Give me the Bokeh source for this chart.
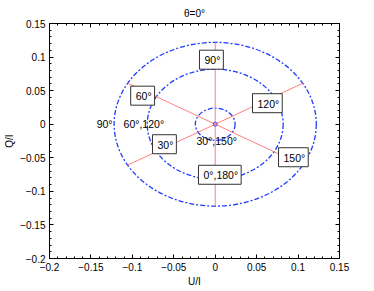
import numpy as np
from bokeh.plotting import figure
from bokeh.models import LinearAxis, FixedTicker, CustomJSTickFormatter, Range1d
from bokeh.core.properties import value
from bokeh.embed import file_html
from bokeh.resources import INLINE

# ---- data ----
ring_radii = [0.024, 0.082, 0.122]
line_angles_deg = [30, 90, 150]
line_radius = 0.122
boxed_labels = ["90°", "60°", "120°", "30°", "150°", "0°,180°"]
boxed_u = [-0.019, -0.102, 0.045, -0.0757, 0.0764, -0.0202]
boxed_q = [0.0961, 0.0425, 0.0313, -0.0298, -0.0492, -0.0753]
plain_labels = ["90°", "60°,120°", "30°,150°"]
plain_u = [-0.1431, -0.1106, -0.0226]
plain_q = [0.0, 0.0, -0.0253]
major_ticks = [-0.2, -0.15, -0.1, -0.05, 0.0, 0.05, 0.1, 0.15]
minor_ticks = [round(-0.2 + 0.01 * i, 2) for i in range(36)]
title_text = "θ=0°"
x_label = "U/I"
y_label = "Q/I"

FONT = "Liberation Sans"
FS = "10px"
LFS = "10.5px"

p = figure(width=374, height=291,
           x_range=Range1d(-0.2, 0.15), y_range=Range1d(-0.2, 0.15),
           output_backend="svg", toolbar_location=None, title=title_text,
           min_border_left=49, min_border_right=35, min_border_top=23, min_border_bottom=33)
p.title.align = "center"
p.title.text_font = FONT
p.title.text_font_size = FS
p.title.text_font_style = "normal"
p.title.text_color = "black"
p.title.standoff = 10
p.grid.visible = False
p.outline_line_color = "black"
p.outline_line_width = 1

fmt = CustomJSTickFormatter(code="""
if (Math.abs(tick) < 1e-12) return "0";
const s = String(Math.round(tick*100)/100);
return s.replace("-", "\\u2212");
""")
blank = CustomJSTickFormatter(code="return '';")

def style_axis(ax, show_labels):
    ax.ticker = FixedTicker(ticks=major_ticks, minor_ticks=minor_ticks)
    ax.major_tick_in = 4
    ax.major_tick_out = 0
    ax.minor_tick_in = 2
    ax.minor_tick_out = 0
    ax.axis_line_color = "black"
    ax.major_tick_line_color = "black"
    ax.minor_tick_line_color = "black"
    if show_labels:
        ax.formatter = fmt
        ax.major_label_text_font = FONT
        ax.major_label_text_font_size = FS
        ax.major_label_text_color = "black"
        ax.major_label_standoff = 4
        ax.axis_label_text_font = FONT
        ax.axis_label_text_font_size = FS
        ax.axis_label_text_font_style = "normal"
        ax.axis_label_text_color = "black"
        ax.axis_label_standoff = 2
    else:
        ax.formatter = blank
        ax.major_label_text_font_size = "0px"
        ax.major_label_standoff = 0

style_axis(p.xaxis[0], True)
style_axis(p.yaxis[0], True)
p.xaxis[0].axis_label = x_label
p.yaxis[0].axis_label = y_label

top_ax = LinearAxis()
right_ax = LinearAxis()
style_axis(top_ax, False)
style_axis(right_ax, False)
p.add_layout(top_ax, "above")
p.add_layout(right_ax, "right")

# rings
n = len(ring_radii)
p.ellipse(x=[0.0] * n, y=[0.0] * n,
          width=[2 * r for r in ring_radii], height=[2 * r for r in ring_radii],
          fill_color=None, line_color="#1e3cff", line_width=1.3, line_dash="5 2 2 2")

# red lines
a = np.deg2rad(line_angles_deg)
p.segment(x0=-line_radius * np.cos(a), y0=-line_radius * np.sin(a),
          x1=line_radius * np.cos(a), y1=line_radius * np.sin(a),
          line_color="#ff7070", line_width=0.9)

# center marker
p.scatter(x=[0.0], y=[0.0], marker="circle", size=4, fill_color=None,
          line_color="#3a4cff", line_width=1)

# boxed labels
p.text(x=boxed_u, y=boxed_q, text=boxed_labels, text_align="left",
       text_baseline="middle", text_font=value(FONT), text_font_size=LFS,
       text_color="black", border_line_color="#333333", border_line_width=1,
       background_fill_color="white", padding=(5, 3, 4, 3))

# plain labels
p.text(x=plain_u, y=plain_q, text=plain_labels, text_align="left",
       text_baseline="middle", text_font=value(FONT), text_font_size=LFS,
       text_color="black")

open("out.html", "w").write(file_html(p, INLINE))
